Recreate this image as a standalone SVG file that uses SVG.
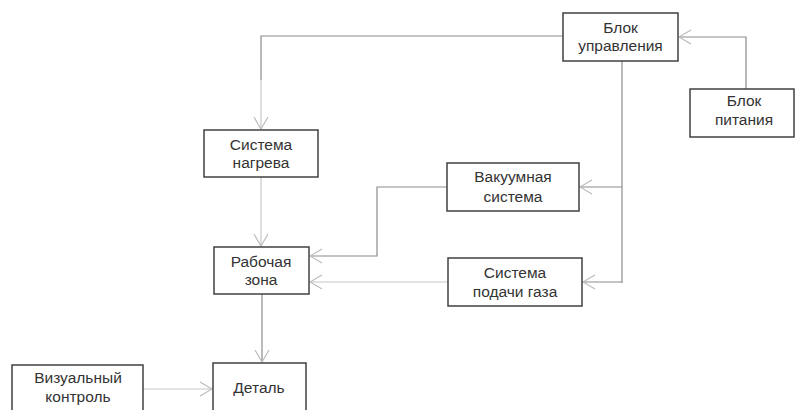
<svg xmlns="http://www.w3.org/2000/svg" width="795" height="410" viewBox="0 0 795 410">
<defs>
<marker id="arr" markerWidth="14" markerHeight="16" refX="13" refY="8" orient="auto" markerUnits="userSpaceOnUse">
<path d="M1,1 L13,8 L1,15" fill="none" stroke="#bbbbbb" stroke-width="1.2"/>
</marker>
<style>
.box{fill:#ffffff;stroke:#404040;stroke-width:1.5}
.t{font-family:"Liberation Sans",Arial,sans-serif;font-size:15.5px;fill:#333333;text-anchor:middle}
.c{fill:none;stroke:#8c8c8c;stroke-width:1.2}
.cl{fill:none;stroke:#c8c8c8;stroke-width:1.2}
</style>
</defs>
<rect width="795" height="410" fill="#ffffff"/>
<g id="connectors">
<path class="c" d="M563,36 H261 V80"/>
<path class="cl" d="M261,80 V129" marker-end="url(#arr)"/>
<path class="c" d="M746,89 V37 H679" marker-end="url(#arr)"/>
<path class="c" d="M622,61 V283"/>
<path class="c" d="M622,187 H580" marker-end="url(#arr)"/>
<path class="c" d="M622,282 H583" marker-end="url(#arr)"/>
<path class="c" d="M447,187 H377 V256 H310" marker-end="url(#arr)"/>
<path class="cl" d="M448,282 H310" marker-end="url(#arr)"/>
<path class="cl" d="M261,177 V246" marker-end="url(#arr)"/>
<path class="c" d="M262,294 V362" marker-end="url(#arr)"/>
<path class="cl" d="M143,389 H212" marker-end="url(#arr)"/>
</g>
<g id="control">
<rect class="box" x="563" y="13" width="115" height="48"/>
<text class="t" x="620.5" y="33">Блок</text>
<text class="t" x="620.5" y="51">управления</text>
</g>
<g id="power">
<rect class="box" x="690" y="89" width="104" height="48"/>
<text class="t" x="744" y="106">Блок</text>
<text class="t" x="744" y="125">питания</text>
</g>
<g id="heating">
<rect class="box" x="204" y="130" width="114" height="47"/>
<text class="t" x="261" y="150">Система</text>
<text class="t" x="261" y="168">нагрева</text>
</g>
<g id="vacuum">
<rect class="box" x="447" y="163" width="132" height="48"/>
<text class="t" x="513" y="182">Вакуумная</text>
<text class="t" x="513" y="202">система</text>
</g>
<g id="workzone">
<rect class="box" x="214" y="247" width="95" height="47"/>
<text class="t" x="261" y="267">Рабочая</text>
<text class="t" x="261" y="285">зона</text>
</g>
<g id="gas">
<rect class="box" x="448" y="258" width="134" height="48"/>
<text class="t" x="515" y="278">Система</text>
<text class="t" x="515" y="297">подачи газа</text>
</g>
<g id="visual">
<rect class="box" x="12" y="365" width="131" height="50"/>
<text class="t" x="78" y="383">Визуальный</text>
<text class="t" x="78" y="402">контроль</text>
</g>
<g id="detail">
<rect class="box" x="213" y="363" width="93" height="52"/>
<text class="t" x="259" y="393">Деталь</text>
</g>
</svg>
